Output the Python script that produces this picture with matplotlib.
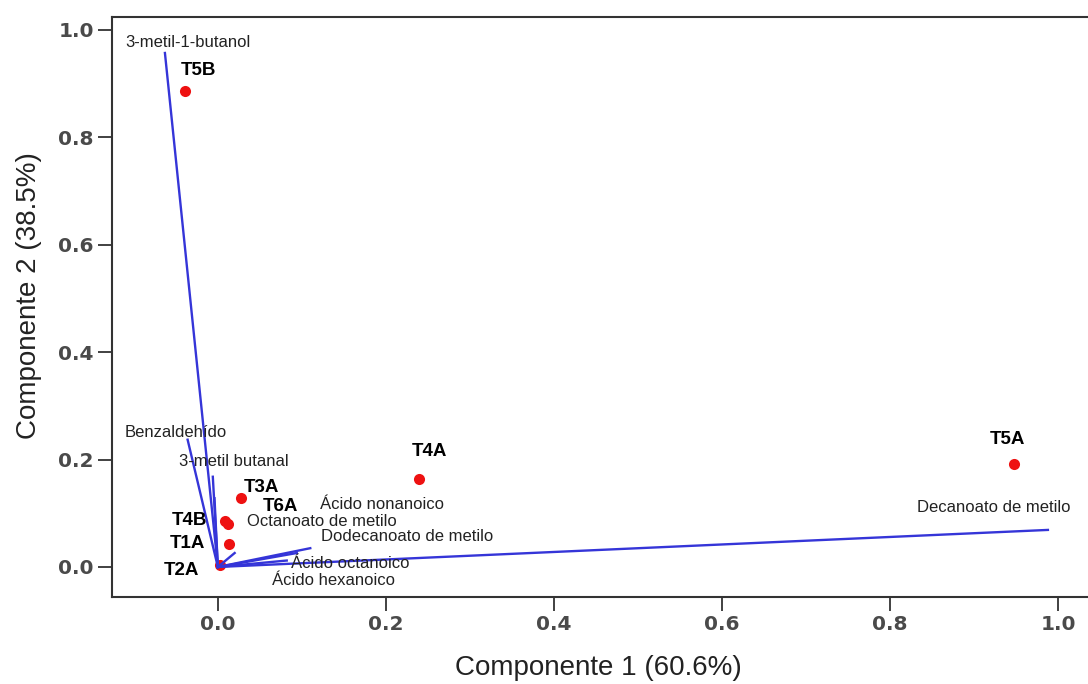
import numpy as np
import matplotlib
matplotlib.use("Agg")
import matplotlib.pyplot as plt

matplotlib.rcParams['font.family'] = ['Liberation Sans', 'DejaVu Sans']

# PCA biplot: sample scores (red) and variable loadings (blue vectors)
samples = ["T5B", "T4A", "T5A", "T3A", "T6A", "T4B", "T1A", "T2A"]
score_pc1 = [-0.039, 0.240, 0.948, 0.027, 0.009, 0.012, 0.013, 0.002]
score_pc2 = [0.886, 0.164, 0.192, 0.128, 0.086, 0.080, 0.043, 0.003]

variables = ["3-metil-1-butanol", "Benzaldehído", "3-metil butanal",
             "Octanoato de metilo", "Ácido nonanoico", "Dodecanoato de metilo",
             "Ácido octanoico", "Ácido hexanoico", "Decanoato de metilo"]
load_pc1 = [-0.063, -0.036, -0.006, -0.004, 0.094, 0.110, 0.082, 0.020, 0.988]
load_pc2 = [0.957, 0.237, 0.168, 0.128, 0.026, 0.035, 0.012, 0.026, 0.069]

# label offsets in pixels (dx, dy) from the mark
sample_offsets = [(13, 21), (10, 27), (-7, 24), (21, 11), (55, 14),
                  (-39, 4), (-41, 0), (-38, -5)]
var_label_pos = [(-0.036, 0.976), (-0.050, 0.2495), (0.019, 0.1955),
                 (0.124, 0.084), (0.195, 0.1155), (0.225, 0.056),
                 (0.157, 0.0056), (0.138, -0.026), (0.924, 0.110)]

fig = plt.figure(figsize=(10.88, 6.84), dpi=100)
ax = fig.add_axes([112 / 1088, 1 - 597 / 684, (1100 - 112) / 1088, 580 / 684])

ax.scatter(score_pc1, score_pc2, s=64, color="#ee1111", zorder=2, linewidths=0)
for x, y in zip(load_pc1, load_pc2):
    ax.plot([0, x], [0, y], color="#3535d8", linewidth=1.7, zorder=3)

for name, x, y, (dx, dy) in zip(samples, score_pc1, score_pc2, sample_offsets):
    ax.annotate(name, (x, y), xytext=(dx, dy), textcoords="offset pixels",
                ha="center", va="center", fontsize=13.5, fontweight="bold",
                color="black", zorder=4)

for name, (tx, ty) in zip(variables, var_label_pos):
    ax.text(tx, ty, name, ha="center", va="center", fontsize=12,
            color="#222222", zorder=4)

ax.set_xlim(-0.126, 1.05)
ax.set_ylim(-0.0559, 1.024)
ax.set_xticks([0.0, 0.2, 0.4, 0.6, 0.8, 1.0])
ax.set_yticks([0.0, 0.2, 0.4, 0.6, 0.8, 1.0])
ax.xaxis.set_major_formatter(matplotlib.ticker.FormatStrFormatter('%.1f'))
ax.yaxis.set_major_formatter(matplotlib.ticker.FormatStrFormatter('%.1f'))
ax.tick_params(direction="out", length=10, width=1.3, color="#333333",
               labelsize=14.5, labelcolor="#4a4a4a", pad=3)
for lbl in ax.get_xticklabels() + ax.get_yticklabels():
    lbl.set_family("DejaVu Sans")
    lbl.set_fontweight("semibold")
for sp in ax.spines.values():
    sp.set_color("#333333")
    sp.set_linewidth(1.5)

ax.set_xlabel("Componente 1 (60.6%)", fontsize=20, color="#222222")
ax.set_ylabel("Componente 2 (38.5%)", fontsize=20, color="#222222")
ax.xaxis.set_label_coords(0.492, -0.100)
ax.yaxis.set_label_coords(-0.071, 0.52)

plt.savefig("out.png", dpi=100)
